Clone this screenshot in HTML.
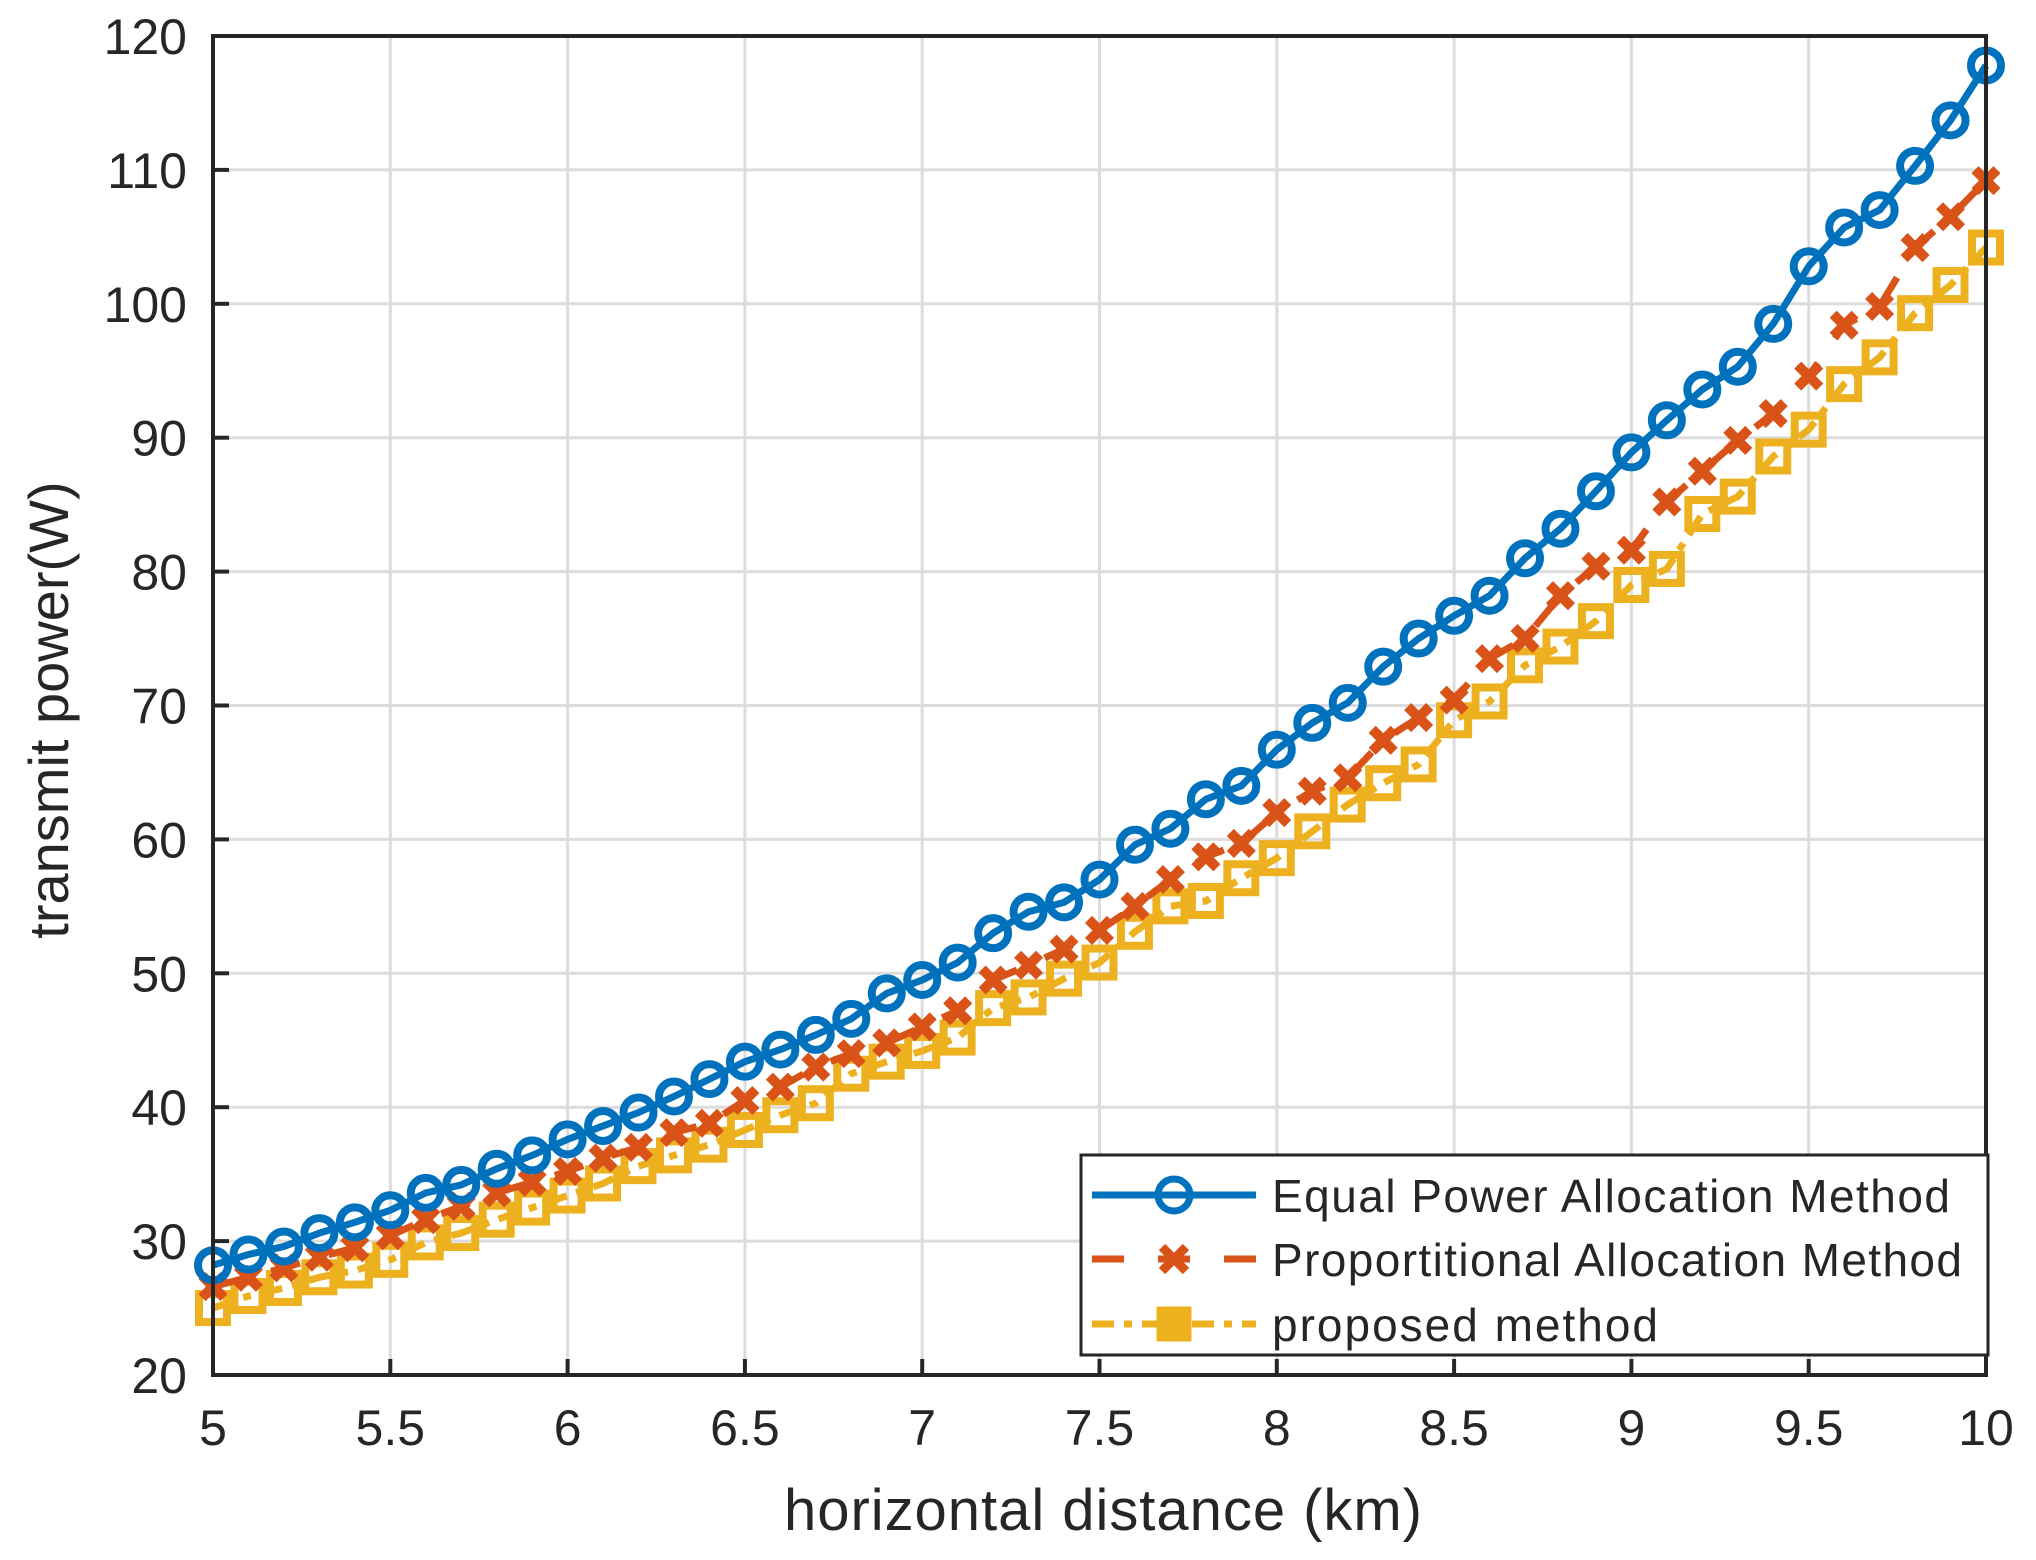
<!DOCTYPE html>
<html><head><meta charset="utf-8"><style>body{margin:0;background:#fff}svg{display:block}text{font-family:"Liberation Sans",sans-serif;fill:#262626}</style></head>
<body>
<svg id="chart" width="2036" height="1560" viewBox="0 0 2036 1560" xmlns="http://www.w3.org/2000/svg">
<g id="grid"></g>
<g id="series"></g>
<rect x="213" y="36" width="1773" height="1339" fill="none" stroke="#262626" stroke-width="4"/>
<g id="ticks"></g>
<text x="1103" y="1530" font-size="58" text-anchor="middle" textLength="638">horizontal distance (km)</text>
<text transform="translate(68,710) rotate(-90)" font-size="56" text-anchor="middle">transmit power(W)</text>
<g>
<rect x="1081" y="1155" width="907" height="200" fill="#fff" stroke="#262626" stroke-width="3"/>
<g>
<line x1="1092" y1="1195" x2="1256" y2="1195" stroke="#0072BD" stroke-width="7"/>
<circle cx="1174" cy="1195" r="16" fill="none" stroke="#0072BD" stroke-width="7"/>
<text x="1272" y="1212" font-size="46" textLength="678">Equal Power Allocation Method</text></g>
<g>
<line x1="1092" y1="1259" x2="1256" y2="1259" stroke="#D95319" stroke-width="7" stroke-dasharray="32,34"/>
<path d="M1162,1247 L1186,1271 M1186,1247 L1162,1271" stroke="#D95319" stroke-width="9"/>
<text x="1272" y="1276" font-size="46" textLength="690">Proportitional Allocation Method</text></g>
<g>
<line x1="1092" y1="1324" x2="1256" y2="1324" stroke="#EDB120" stroke-width="7" stroke-dasharray="22,10,8,10"/>
<rect x="1158" y="1308" width="32" height="32" fill="#EDB120" stroke="#EDB120" stroke-width="3"/>
<text x="1272" y="1341" font-size="46" textLength="386">proposed method</text></g>
</g>
</svg>
<script>
const xs=[];for(let i=0;i<=50;i++)xs.push(5+i*0.1);
const equalPower=[28.2,29,29.6,30.6,31.4,32.3,33.6,34.2,35.4,36.4,37.6,38.6,39.6,40.8,42.1,43.4,44.3,45.4,46.6,48.5,49.5,50.8,53,54.6,55.3,57,59.6,60.8,63,64,66.7,68.7,70.2,72.9,75,76.7,78.2,81,83.2,86,88.9,91.3,93.6,95.3,98.5,102.8,105.7,107,110.3,113.7,117.8];
const proportional=[26.6,27.3,28,28.8,29.5,30.4,31.6,32.6,33.6,34.4,35.2,36.2,37,38.1,38.8,40.5,41.5,43,44,44.8,46,47.2,49.5,50.6,51.8,53.2,55,57,58.7,59.7,62,63.6,64.6,67.4,69.1,70.4,73.5,75,78.2,80.4,81.6,85.2,87.5,89.8,91.8,94.6,98.4,99.8,104.2,106.5,109.2];
const proposed=[25,25.9,26.5,27.3,27.8,28.6,29.9,30.6,31.6,32.5,33.4,34.3,35.6,36.4,37.2,38.3,39.4,40.3,42.5,43.4,44.2,45.2,47.4,48.2,49.6,50.8,53.1,55,55.4,57.1,58.6,60.6,62.6,64.2,65.6,68.9,70.3,73,74.4,76.3,79,80.2,84.3,85.6,88.6,90.6,94,96,99.3,101.4,104.2];
const xTicks=[5,5.5,6,6.5,7,7.5,8,8.5,9,9.5,10];
const xTickLabels=["5","5.5","6","6.5","7","7.5","8","8.5","9","9.5","10"];
const yTicks=[20,30,40,50,60,70,80,90,100,110,120];
const yTickLabels=["20","30","40","50","60","70","80","90","100","110","120"];
const L=213,R=1986,T=36,B=1375;
const X=v=>L+(v-5)/5*(R-L), Y=v=>B-(v-20)/100*(B-T);
const NS="http://www.w3.org/2000/svg";
function mk(tag,attrs,parent){const e=document.createElementNS(NS,tag);for(const k in attrs)e.setAttribute(k,attrs[k]);parent.appendChild(e);return e;}
const grid=document.getElementById('grid'),ticks=document.getElementById('ticks'),ser=document.getElementById('series');
xTicks.forEach((v,i)=>{const g=mk('line',{x1:X(v),x2:X(v),y1:T,y2:B,stroke:'#dcdcdc','stroke-width':3},grid);


const tk=mk('line',{x1:X(v),x2:X(v),y1:B,y2:B-16,stroke:'#262626','stroke-width':4},ticks);


const t=mk('text',{x:X(v),y:1445,'font-size':50,'text-anchor':'middle'},ticks);t.textContent=xTickLabels[i];

});
yTicks.forEach((v,i)=>{const g=mk('line',{x1:L,x2:R,y1:Y(v),y2:Y(v),stroke:'#dcdcdc','stroke-width':3},grid);


const tk=mk('line',{x1:L,x2:L+16,y1:Y(v),y2:Y(v),stroke:'#262626','stroke-width':4},ticks);


const t=mk('text',{x:187,y:Y(v)+18,'font-size':50,'text-anchor':'end'},ticks);t.textContent=yTickLabels[i];

});
function series(vals,color,dash,name,marker){
 const g=mk('g',{},ser);
 
 
 const pts=vals.map((v,i)=>X(xs[i])+','+Y(v)).join(' ');
 const a={points:pts,fill:'none',stroke:color,'stroke-width':7};if(dash)a['stroke-dasharray']=dash;mk('polyline',a,g);
 vals.forEach((v,i)=>{const cx=X(xs[i]),cy=Y(v);let m;
  if(marker==='o')m=mk('circle',{cx:cx,cy:cy,r:15,fill:'none',stroke:color,'stroke-width':8},g);
  else if(marker==='x')m=mk('path',{d:`M${cx-11},${cy-11}L${cx+11},${cy+11}M${cx+11},${cy-11}L${cx-11},${cy+11}`,stroke:color,'stroke-width':10},g);
  else m=mk('rect',{x:cx-14,y:cy-14,width:28,height:28,fill:'none',stroke:color,'stroke-width':8},g);
  
  });}
series(proposed,'#EDB120','22,10,8,10','series-proposed','s');
series(proportional,'#D95319','30,30','series-proportional','x');
series(equalPower,'#0072BD',null,'series-equal-power','o');
</script>
</body></html>
